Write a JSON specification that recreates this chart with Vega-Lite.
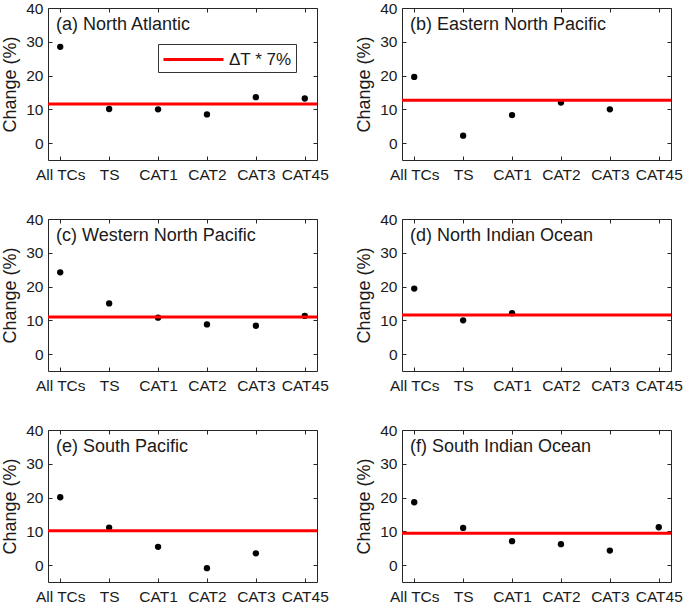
{
  "$schema": "https://vega.github.io/schema/vega-lite/v6.json",
  "background": "white",
  "padding": {"left": 1, "top": 0, "right": 0, "bottom": 0},
  "datasets": {
    "pts": [
      {"region": "a", "cat": "All TCs", "value": 28.5},
      {"region": "a", "cat": "TS", "value": 10.1},
      {"region": "a", "cat": "CAT1", "value": 10.0},
      {"region": "a", "cat": "CAT2", "value": 8.5},
      {"region": "a", "cat": "CAT3", "value": 13.6},
      {"region": "a", "cat": "CAT45", "value": 13.2},
      {"region": "b", "cat": "All TCs", "value": 19.6},
      {"region": "b", "cat": "TS", "value": 2.2},
      {"region": "b", "cat": "CAT1", "value": 8.3},
      {"region": "b", "cat": "CAT2", "value": 12.0},
      {"region": "b", "cat": "CAT3", "value": 10.0},
      {"region": "c", "cat": "All TCs", "value": 24.2},
      {"region": "c", "cat": "TS", "value": 15.0},
      {"region": "c", "cat": "CAT1", "value": 10.8},
      {"region": "c", "cat": "CAT2", "value": 8.8},
      {"region": "c", "cat": "CAT3", "value": 8.4},
      {"region": "c", "cat": "CAT45", "value": 11.3},
      {"region": "d", "cat": "All TCs", "value": 19.4},
      {"region": "d", "cat": "TS", "value": 10.0},
      {"region": "d", "cat": "CAT1", "value": 12.1},
      {"region": "e", "cat": "All TCs", "value": 20.1},
      {"region": "e", "cat": "TS", "value": 11.1},
      {"region": "e", "cat": "CAT1", "value": 5.4},
      {"region": "e", "cat": "CAT2", "value": -0.9},
      {"region": "e", "cat": "CAT3", "value": 3.5},
      {"region": "f", "cat": "All TCs", "value": 18.6},
      {"region": "f", "cat": "TS", "value": 11.0},
      {"region": "f", "cat": "CAT1", "value": 7.1},
      {"region": "f", "cat": "CAT2", "value": 6.2},
      {"region": "f", "cat": "CAT3", "value": 4.3},
      {"region": "f", "cat": "CAT45", "value": 11.2}
    ],
    "lines": [
      {"region": "a", "value": 11.6},
      {"region": "b", "value": 12.7},
      {"region": "c", "value": 11.0},
      {"region": "d", "value": 11.6},
      {"region": "e", "value": 10.2},
      {"region": "f", "value": 9.4}
    ]
  },
  "columns": 2,
  "spacing": {"column": 26, "row": 28},
  "concat": [
    {
      "width": 269, "height": 152,
      "title": {"text": "(a) North Atlantic"},
      "layer": [
        {"data": {"name": "pts"}, "transform": [{"filter": "datum.region == 'a'"}],
         "mark": {"type": "point", "filled": true, "color": "black", "size": 40, "opacity": 1},
         "encoding": {
           "x": {"field": "cat", "type": "nominal", "scale": {"type": "point", "domain": ["All TCs", "TS", "CAT1", "CAT2", "CAT3", "CAT45"], "padding": 0.25}, "axis": {"orient": "bottom", "title": null, "labelAngle": 0}},
           "y": {"field": "value", "type": "quantitative", "scale": {"domain": [-5, 40], "nice": false, "zero": false}, "axis": {"orient": "left", "title": "Change (%)", "values": [0, 10, 20, 30, 40]}}}},
        {"data": {"name": "pts"}, "transform": [{"filter": "datum.region == 'a'"}],
         "mark": {"type": "point", "opacity": 0},
         "encoding": {
           "x": {"field": "cat", "type": "nominal", "axis": {"orient": "top", "title": null, "labels": false}},
           "y": {"field": "value", "type": "quantitative", "axis": {"orient": "right", "title": null, "labels": false, "values": [0, 10, 20, 30, 40]}}}},
        {"data": {"name": "lines"}, "transform": [{"filter": "datum.region == 'a'"}],
         "mark": {"type": "rule", "strokeWidth": 3},
         "encoding": {
           "y": {"field": "value", "type": "quantitative", "axis": null},
           "color": {"datum": "ΔT * 7%", "type": "nominal", "scale": {"range": ["#ff0000"]},
             "legend": {"orient": "none", "legendX": 110, "legendY": 36, "title": null, "symbolType": "M-3,0H3", "symbolSize": 400, "symbolStrokeWidth": 3, "symbolOffset": 20, "labelOffset": 24, "labelFontSize": 17, "labelFont": "Liberation Sans", "labelColor": "#1a1a1a", "strokeColor": "#333333", "fillColor": "white", "padding": 4}}}}
      ],
      "resolve": {"axis": {"x": "independent", "y": "independent"}}
    },
    {
      "width": 269, "height": 152,
      "title": {"text": "(b) Eastern North Pacific"},
      "layer": [
        {"data": {"name": "pts"}, "transform": [{"filter": "datum.region == 'b'"}],
         "mark": {"type": "point", "filled": true, "color": "black", "size": 40, "opacity": 1},
         "encoding": {
           "x": {"field": "cat", "type": "nominal", "scale": {"type": "point", "domain": ["All TCs", "TS", "CAT1", "CAT2", "CAT3", "CAT45"], "padding": 0.25}, "axis": {"orient": "bottom", "title": null, "labelAngle": 0}},
           "y": {"field": "value", "type": "quantitative", "scale": {"domain": [-5, 40], "nice": false, "zero": false}, "axis": {"orient": "left", "title": "Change (%)", "values": [0, 10, 20, 30, 40]}}}},
        {"data": {"name": "pts"}, "transform": [{"filter": "datum.region == 'b'"}],
         "mark": {"type": "point", "opacity": 0},
         "encoding": {
           "x": {"field": "cat", "type": "nominal", "axis": {"orient": "top", "title": null, "labels": false}},
           "y": {"field": "value", "type": "quantitative", "axis": {"orient": "right", "title": null, "labels": false, "values": [0, 10, 20, 30, 40]}}}},
        {"data": {"name": "lines"}, "transform": [{"filter": "datum.region == 'b'"}],
         "mark": {"type": "rule", "strokeWidth": 3, "color": "#ff0000"},
         "encoding": {"y": {"field": "value", "type": "quantitative", "axis": null}}}
      ],
      "resolve": {"axis": {"x": "independent", "y": "independent"}}
    },
    {
      "width": 269, "height": 152,
      "title": {"text": "(c) Western North Pacific"},
      "layer": [
        {"data": {"name": "pts"}, "transform": [{"filter": "datum.region == 'c'"}],
         "mark": {"type": "point", "filled": true, "color": "black", "size": 40, "opacity": 1},
         "encoding": {
           "x": {"field": "cat", "type": "nominal", "scale": {"type": "point", "domain": ["All TCs", "TS", "CAT1", "CAT2", "CAT3", "CAT45"], "padding": 0.25}, "axis": {"orient": "bottom", "title": null, "labelAngle": 0}},
           "y": {"field": "value", "type": "quantitative", "scale": {"domain": [-5, 40], "nice": false, "zero": false}, "axis": {"orient": "left", "title": "Change (%)", "values": [0, 10, 20, 30, 40]}}}},
        {"data": {"name": "pts"}, "transform": [{"filter": "datum.region == 'c'"}],
         "mark": {"type": "point", "opacity": 0},
         "encoding": {
           "x": {"field": "cat", "type": "nominal", "axis": {"orient": "top", "title": null, "labels": false}},
           "y": {"field": "value", "type": "quantitative", "axis": {"orient": "right", "title": null, "labels": false, "values": [0, 10, 20, 30, 40]}}}},
        {"data": {"name": "lines"}, "transform": [{"filter": "datum.region == 'c'"}],
         "mark": {"type": "rule", "strokeWidth": 3, "color": "#ff0000"},
         "encoding": {"y": {"field": "value", "type": "quantitative", "axis": null}}}
      ],
      "resolve": {"axis": {"x": "independent", "y": "independent"}}
    },
    {
      "width": 269, "height": 152,
      "title": {"text": "(d) North Indian Ocean"},
      "layer": [
        {"data": {"name": "pts"}, "transform": [{"filter": "datum.region == 'd'"}],
         "mark": {"type": "point", "filled": true, "color": "black", "size": 40, "opacity": 1},
         "encoding": {
           "x": {"field": "cat", "type": "nominal", "scale": {"type": "point", "domain": ["All TCs", "TS", "CAT1", "CAT2", "CAT3", "CAT45"], "padding": 0.25}, "axis": {"orient": "bottom", "title": null, "labelAngle": 0}},
           "y": {"field": "value", "type": "quantitative", "scale": {"domain": [-5, 40], "nice": false, "zero": false}, "axis": {"orient": "left", "title": "Change (%)", "values": [0, 10, 20, 30, 40]}}}},
        {"data": {"name": "pts"}, "transform": [{"filter": "datum.region == 'd'"}],
         "mark": {"type": "point", "opacity": 0},
         "encoding": {
           "x": {"field": "cat", "type": "nominal", "axis": {"orient": "top", "title": null, "labels": false}},
           "y": {"field": "value", "type": "quantitative", "axis": {"orient": "right", "title": null, "labels": false, "values": [0, 10, 20, 30, 40]}}}},
        {"data": {"name": "lines"}, "transform": [{"filter": "datum.region == 'd'"}],
         "mark": {"type": "rule", "strokeWidth": 3, "color": "#ff0000"},
         "encoding": {"y": {"field": "value", "type": "quantitative", "axis": null}}}
      ],
      "resolve": {"axis": {"x": "independent", "y": "independent"}}
    },
    {
      "width": 269, "height": 152,
      "title": {"text": "(e) South Pacific"},
      "layer": [
        {"data": {"name": "pts"}, "transform": [{"filter": "datum.region == 'e'"}],
         "mark": {"type": "point", "filled": true, "color": "black", "size": 40, "opacity": 1},
         "encoding": {
           "x": {"field": "cat", "type": "nominal", "scale": {"type": "point", "domain": ["All TCs", "TS", "CAT1", "CAT2", "CAT3", "CAT45"], "padding": 0.25}, "axis": {"orient": "bottom", "title": null, "labelAngle": 0}},
           "y": {"field": "value", "type": "quantitative", "scale": {"domain": [-5, 40], "nice": false, "zero": false}, "axis": {"orient": "left", "title": "Change (%)", "values": [0, 10, 20, 30, 40]}}}},
        {"data": {"name": "pts"}, "transform": [{"filter": "datum.region == 'e'"}],
         "mark": {"type": "point", "opacity": 0},
         "encoding": {
           "x": {"field": "cat", "type": "nominal", "axis": {"orient": "top", "title": null, "labels": false}},
           "y": {"field": "value", "type": "quantitative", "axis": {"orient": "right", "title": null, "labels": false, "values": [0, 10, 20, 30, 40]}}}},
        {"data": {"name": "lines"}, "transform": [{"filter": "datum.region == 'e'"}],
         "mark": {"type": "rule", "strokeWidth": 3, "color": "#ff0000"},
         "encoding": {"y": {"field": "value", "type": "quantitative", "axis": null}}}
      ],
      "resolve": {"axis": {"x": "independent", "y": "independent"}}
    },
    {
      "width": 269, "height": 152,
      "title": {"text": "(f) South Indian Ocean"},
      "layer": [
        {"data": {"name": "pts"}, "transform": [{"filter": "datum.region == 'f'"}],
         "mark": {"type": "point", "filled": true, "color": "black", "size": 40, "opacity": 1},
         "encoding": {
           "x": {"field": "cat", "type": "nominal", "scale": {"type": "point", "domain": ["All TCs", "TS", "CAT1", "CAT2", "CAT3", "CAT45"], "padding": 0.25}, "axis": {"orient": "bottom", "title": null, "labelAngle": 0}},
           "y": {"field": "value", "type": "quantitative", "scale": {"domain": [-5, 40], "nice": false, "zero": false}, "axis": {"orient": "left", "title": "Change (%)", "values": [0, 10, 20, 30, 40]}}}},
        {"data": {"name": "pts"}, "transform": [{"filter": "datum.region == 'f'"}],
         "mark": {"type": "point", "opacity": 0},
         "encoding": {
           "x": {"field": "cat", "type": "nominal", "axis": {"orient": "top", "title": null, "labels": false}},
           "y": {"field": "value", "type": "quantitative", "axis": {"orient": "right", "title": null, "labels": false, "values": [0, 10, 20, 30, 40]}}}},
        {"data": {"name": "lines"}, "transform": [{"filter": "datum.region == 'f'"}],
         "mark": {"type": "rule", "strokeWidth": 3, "color": "#ff0000"},
         "encoding": {"y": {"field": "value", "type": "quantitative", "axis": null}}}
      ],
      "resolve": {"axis": {"x": "independent", "y": "independent"}}
    }
  ],
  "config": {
    "font": "Liberation Sans",
    "view": {"stroke": "#262626", "strokeWidth": 1},
    "axis": {
      "grid": false, "domain": false,
      "tickSize": -4, "tickColor": "#262626", "tickWidth": 1,
      "labelFont": "Liberation Sans", "labelFontSize": 15.5, "labelColor": "#1a1a1a",
      "titleFont": "Liberation Sans", "titleFontSize": 18, "titleFontWeight": "normal", "titleColor": "#1a1a1a"
    },
    "axisLeft": {"labelPadding": 9, "titlePadding": 6},
    "axisBottom": {"labelPadding": 11},
    "title": {
      "anchor": "start", "frame": "group", "orient": "top",
      "offset": -33, "dx": 8, "baseline": "alphabetic",
      "fontSize": 18, "fontWeight": "normal", "font": "Liberation Sans", "color": "#1a1a1a"
    }
  }
}
